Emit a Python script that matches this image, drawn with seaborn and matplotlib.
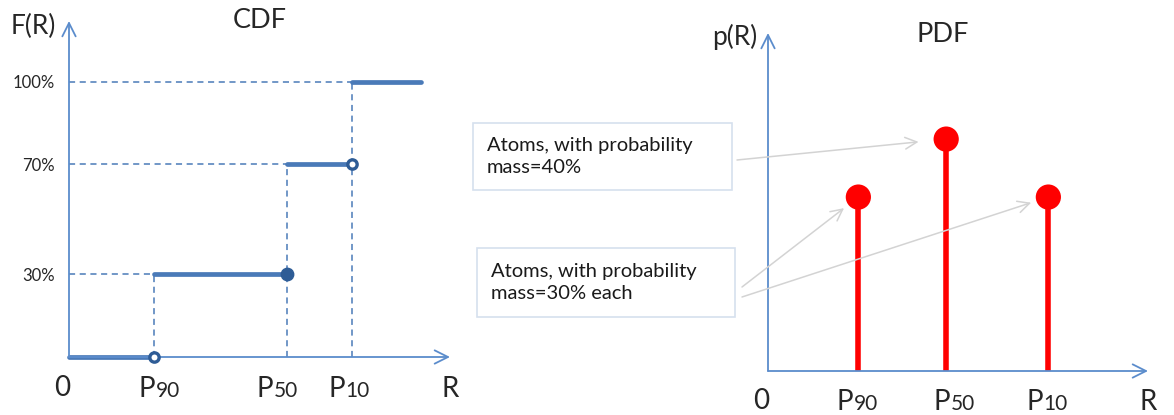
import seaborn as sns
import matplotlib.pyplot as plt
import pandas as pd
from matplotlib.patches import Rectangle

# CDF panel: positions of 0, P90, P50, P10 and the level reached at each step
cdf_x = [0.0, 1.0, 2.57, 3.34]
cdf_end = 4.16
cdf_levels = [0.0, 0.3, 0.7, 1.0]
cdf_ticks = [0.3, 0.7, 1.0]
cdf_tick_labels = ['30%', '70%', '100%']
p_names = ['90', '50', '10']

# PDF panel: atoms at P90, P50, P10
pdf_x = [1.07, 2.11, 3.32]
pdf_mass = [0.3, 0.4, 0.3]

box_texts = ['Atoms, with probability\nmass=40%',
             'Atoms, with probability\nmass=30% each']

W, H = 1174, 415
sns.set_theme(style='white')
plt.rcParams['font.family'] = ['Lato', 'DejaVu Sans']

step_blue = '#4a7ab8'
dot_blue = '#2e5c96'
axis_blue = '#5b8ccc'


def fpx(x, y):
    # pixel position (from top-left) to figure fraction
    return x / W, 1 - y / H


def draw_axes_arrows(ax):
    for sp in ax.spines.values():
        sp.set_visible(False)
    style = dict(arrowstyle='->,head_length=0.8,head_width=0.4', color=axis_blue,
                 lw=1.3, shrinkA=0, shrinkB=0)
    ax.annotate('', xy=(0, 1), xytext=(0, 0), xycoords='axes fraction', arrowprops=style)
    ax.annotate('', xy=(1, 0), xytext=(0, 0), xycoords='axes fraction', arrowprops=style)


def draw_r_labels(ax, xs, shifts, base):
    # "0", P-labels with small digits, and "R" under the x axis
    ax.annotate('0', xy=(0, 0), xycoords='data', xytext=(-5, base + 1),
                textcoords='offset points', ha='center', va='baseline', fontsize=20)
    for x, name, dx in zip(xs, p_names, shifts):
        ax.annotate('P', xy=(x, 0), xycoords='data', xytext=(dx, base),
                    textcoords='offset points', ha='right', va='baseline', fontsize=20)
        ax.annotate(name, xy=(x, 0), xycoords='data', xytext=(dx + 0.5, base),
                    textcoords='offset points', ha='left', va='baseline', fontsize=15)
    ax.annotate('R', xy=(1, 0), xycoords='axes fraction', xytext=(0, base),
                textcoords='offset points', ha='center', va='baseline', fontsize=20)


fig = plt.figure(figsize=(W / 100, H / 100), dpi=100)

# ---------------- CDF ----------------
ax1 = fig.add_axes([69 / W, 58 / H, 381 / W, 336 / H])
ax1.set_xlim(0, 4.5)
ax1.set_ylim(0, 1.22)

starts = cdf_x
ends = cdf_x[1:] + [cdf_end]
seg = pd.DataFrame({
    'R': [v for a, b in zip(starts, ends) for v in (a, b)],
    'F': [v for lv in cdf_levels for v in (lv, lv)],
    'seg': [i for i in range(len(starts)) for _ in range(2)],
})

for x, lv in zip(cdf_x[1:], cdf_levels[1:]):
    ax1.hlines(lv, 0, x, colors=step_blue, lw=1.1, linestyles=(0, (4, 3)), zorder=1)
    ax1.vlines(x, 0, lv, colors=step_blue, lw=1.1, linestyles=(0, (4, 3)), zorder=1)

sns.lineplot(data=seg, x='R', y='F', units='seg', estimator=None, color=step_blue,
             lw=3.4, legend=False, ax=ax1, zorder=3, clip_on=False)

dots = pd.DataFrame({'R': cdf_x[1:], 'F': cdf_levels[:-1], 'filled': [False, True, False]})
sns.scatterplot(data=dots[~dots['filled']], x='R', y='F', s=45, color='white',
                edgecolor=dot_blue, linewidth=2.4, ax=ax1, zorder=4, clip_on=False)
sns.scatterplot(data=dots[dots['filled']], x='R', y='F', s=80, color=dot_blue,
                edgecolor=dot_blue, linewidth=1, ax=ax1, zorder=4, clip_on=False)

ax1.set_xticks([])
ax1.set_yticks(cdf_ticks)
ax1.set_yticklabels(cdf_tick_labels, fontsize=12)
ax1.tick_params(axis='y', length=0, pad=10)
ax1.set_xlabel('')
ax1.set_ylabel('')
draw_axes_arrows(ax1)
draw_r_labels(ax1, cdf_x[1:], [1, -10, -5], -29)

fig.text(*fpx(33, 34), 'F(R)', fontsize=19, ha='center', va='baseline')
fig.text(*fpx(260, 28), 'CDF', fontsize=19.5, ha='center', va='baseline')

# ---------------- PDF ----------------
ax2 = fig.add_axes([768 / W, 44 / H, 380 / W, 338 / H])
ax2.set_xlim(0, 4.5)
ax2.set_ylim(0, 0.583)

ax2.vlines(pdf_x, 0, pdf_mass, colors='red', lw=4, zorder=3)
sns.scatterplot(x=pdf_x, y=pdf_mass, s=330, color='red', edgecolor='none',
                ax=ax2, zorder=4, clip_on=False)

ax2.set_xticks([])
ax2.set_yticks([])
draw_axes_arrows(ax2)
draw_r_labels(ax2, pdf_x, [-4, 3, -4], -28)

fig.text(*fpx(735, 45), 'p(R)', fontsize=19, ha='center', va='baseline')
fig.text(*fpx(943, 42), 'PDF', fontsize=19.5, ha='center', va='baseline')

# text boxes with arrows to the atoms
boxes = [(473, 123, 732, 190), (477, 248, 735, 317)]
for (x0, y0, x1, y1), txt in zip(boxes, box_texts):
    fig.add_artist(Rectangle(fpx(x0, y1), (x1 - x0) / W, (y1 - y0) / H,
                             transform=fig.transFigure, facecolor='white',
                             edgecolor='#d6e0ee', lw=1.2))
    fig.text(*fpx(x0 + 14, (y0 + y1) / 2), txt, fontsize=14.5, ha='left', va='center',
             linespacing=1.3, color='#1a1a1a')

arrow_style = dict(arrowstyle='->,head_length=0.7,head_width=0.35', color='#d3d3d3',
                   lw=1.1, shrinkA=0)
ax2.annotate('', xy=(pdf_x[1], pdf_mass[1]), xytext=(737, H - 160),
             textcoords='figure pixels', arrowprops=dict(arrow_style, shrinkB=20))
ax2.annotate('', xy=(pdf_x[0], pdf_mass[0]), xytext=(742, H - 287),
             textcoords='figure pixels', arrowprops=dict(arrow_style, shrinkB=13))
ax2.annotate('', xy=(pdf_x[2], pdf_mass[2]), xytext=(742, H - 297),
             textcoords='figure pixels', arrowprops=dict(arrow_style, shrinkB=13))

fig.savefig('out.png', dpi=100)
